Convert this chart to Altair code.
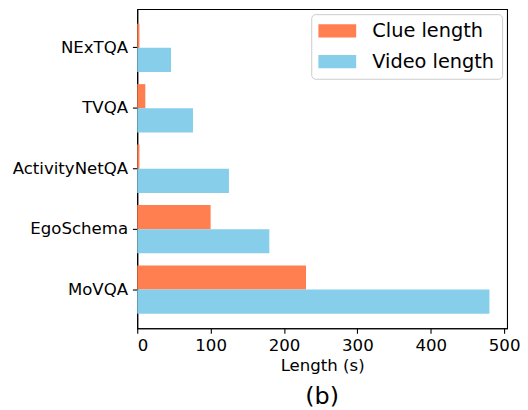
import altair as alt
import pandas as pd

datasets = ["NExTQA", "TVQA", "ActivityNetQA", "EgoSchema", "MoVQA"]
clue_length = [3, 11, 3, 100, 230]
video_length = [46, 76, 125, 180, 480]
series = ["Clue length", "Video length"]
colors = ["#FF7F50", "#87CEEB"]
x_ticks = [0, 100, 200, 300, 400, 500]

rows = []
for d, c, v in zip(datasets, clue_length, video_length):
    rows.append({"dataset": d, "series": series[0], "value": c})
    rows.append({"dataset": d, "series": series[1], "value": v})
df = pd.DataFrame(rows)

font = "DejaVu Sans"
fs = 16.67

chart = alt.Chart(df).mark_bar().encode(
    y=alt.Y(
        "dataset:N",
        sort=datasets,
        scale=alt.Scale(paddingInner=0.2, paddingOuter=0.24),
        axis=alt.Axis(
            title=None, labelFontSize=fs, labelFont=font, labelColor="black",
            tickColor="black", tickSize=4.86, tickWidth=1.1, labelPadding=4.86,
            domainColor="black", domainWidth=1.1, grid=False,
        ),
    ),
    yOffset=alt.YOffset("series:N", sort=series,
                        scale=alt.Scale(paddingInner=0, paddingOuter=0)),
    x=alt.X(
        "value:Q",
        scale=alt.Scale(domain=[0, 504], nice=False, zero=True),
        axis=alt.Axis(
            values=x_ticks, title="Length (s)", titleFontSize=fs, titleFont=font,
            titleFontWeight="normal", titleColor="black", titlePadding=3,
            labelFontSize=fs, labelFont=font, labelColor="black",
            tickColor="black", tickSize=4.86, tickWidth=1.1, labelPadding=4.86,
            domainColor="black", domainWidth=1.1, grid=False,
        ),
    ),
    color=alt.Color(
        "series:N",
        sort=series,
        scale=alt.Scale(domain=series, range=colors),
        legend=alt.Legend(
            title=None, orient="none", legendX=175, legendY=5,
            labelFontSize=19.44, labelFont=font, labelColor="black",
            symbolType="M-1,-0.7H3V0.7H-1Z", symbolSize=361,
            symbolStrokeWidth=0, symbolOpacity=1,
            padding=7, rowPadding=10, labelOffset=35,
            strokeColor="#cccccc", fillColor="white", cornerRadius=4,
        ),
    ),
).properties(
    width=372,
    height=321,
    title=alt.TitleParams("(b)", orient="bottom", fontSize=24, font=font,
                          fontWeight="normal", color="black", offset=11,
                          baseline="top"),
    padding={"left": 4, "top": 0, "right": 0, "bottom": 0},
).configure_view(stroke="black", strokeWidth=1.1)

chart.save("out.html", embed_options={"renderer": "svg", "actions": False})
